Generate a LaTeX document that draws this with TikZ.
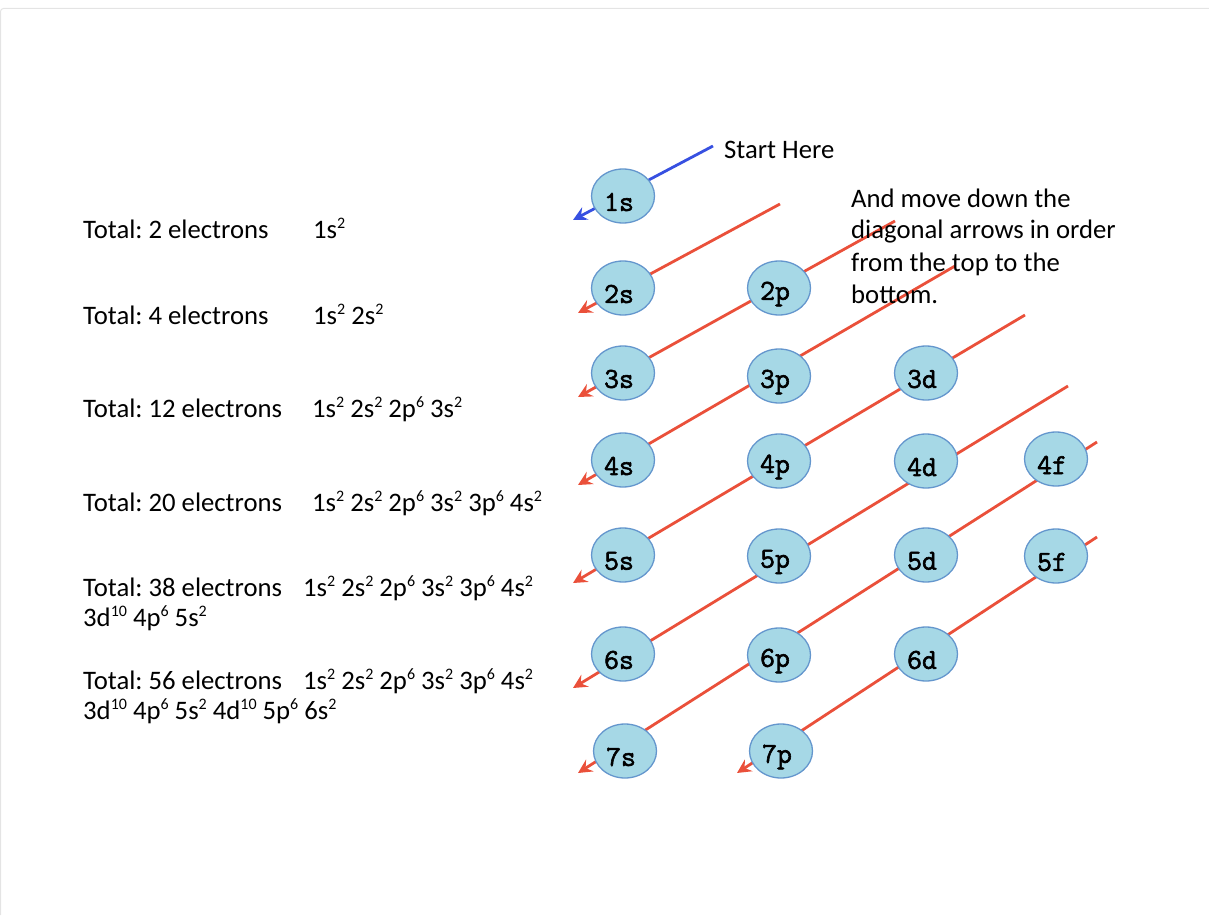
\documentclass[tikz,border=0pt]{standalone}
\usepackage{fontspec}
\setmainfont{Carlito}
\newfontfamily\orbfont[FakeBold=2]{Latin Modern Mono}
\frenchspacing
\usetikzlibrary{shapes.geometric,arrows.meta}
\definecolor{orbfill}{RGB}{166,216,230}
\definecolor{orbdraw}{RGB}{100,150,205}
\definecolor{arrred}{RGB}{234,80,58}
\definecolor{arrblue}{RGB}{55,80,225}
\definecolor{framegray}{RGB}{228,228,228}
\newcommand\su[1]{\raisebox{0.36em}{\fontsize{16}{16}\selectfont #1}}
\begin{document}
\begin{tikzpicture}[x=1pt,y=-1pt,
  orb/.style={ellipse, draw=orbdraw, fill=orbfill, line width=1.3pt,
    minimum width=63pt, minimum height=54pt, inner sep=0pt,
    label={[font=\orbfont\fontsize{29}{29}\selectfont, xshift=-4pt, yshift=-6pt]center:#1}},
  redline/.style={draw=arrred, line width=2.8pt, -{Stealth[length=14pt,width=14pt,inset=5pt]}},
  blueline/.style={draw=arrblue, line width=2.8pt, -{Stealth[length=14pt,width=14pt,inset=5pt]}},
  txt/.style={anchor=base west, inner sep=0pt, font=\fontsize{26.7}{30}\selectfont}]
\useasboundingbox (0,0) rectangle (1209,915);
\draw[framegray, line width=1pt, rounded corners=3pt] (0.5,915) -- (0.5,8.5) -- (1209,8.5);

% arrow end points
\coordinate (b1) at (713,146); \coordinate (e1) at (573,220);
\coordinate (b2) at (780,204); \coordinate (e2) at (578,313);
\coordinate (b3) at (895,221); \coordinate (e3) at (578,397);
\coordinate (b4) at (955,266); \coordinate (e4) at (578,485);
\coordinate (b5) at (1025,315); \coordinate (e5) at (573,583);
\coordinate (b6) at (1068,386); \coordinate (e6) at (573,688);
\coordinate (b7) at (1097,442); \coordinate (e7) at (578,773);
\coordinate (b8) at (1097,537); \coordinate (e8) at (737,773);

\draw[blueline] (b1) -- (e1);
\draw[redline] (b2) -- (e2);
\draw[redline] (b3) -- (e3);
\draw[redline] (b4) -- (e4);
\draw[redline] (b5) -- (e5);
\draw[redline] (b6) -- (e6);
\draw[redline] (b7) -- (e7);
\draw[redline] (b8) -- (e8);

% orbitals
\node[orb=1s] (o1s) at (623,196) {};
\node[orb=2s] (o2s) at (623,288) {};
\node[orb=2p] (o2p) at (779,288) {};
\node[orb=3s] (o3s) at (623,373) {};
\node[orb=3p] (o3p) at (779,376) {};
\node[orb=3d] (o3d) at (926,373) {};
\node[orb=4s] (o4s) at (623,460) {};
\node[orb=4p] (o4p) at (779,461) {};
\node[orb=4d] (o4d) at (926,461) {};
\node[orb=4f] (o4f) at (1056,459) {};
\node[orb=5s] (o5s) at (623,555) {};
\node[orb=5p] (o5p) at (779,556) {};
\node[orb=5d] (o5d) at (926,555) {};
\node[orb=5f] (o5f) at (1056,556) {};
\node[orb=6s] (o6s) at (623,654) {};
\node[orb=6p] (o6p) at (779,655) {};
\node[orb=6d] (o6d) at (926,654) {};
\node[orb=7s] (o7s) at (625,751) {};
\node[orb=7p] (o7p) at (781,751) {};

% annotations
\node[txt] (start) at (724,158) {Start Here};
\node[txt] (m1) at (851,207) {And move down the};
\node[txt] (m2) at (851,238) {diagonal arrows in order};
\node[txt] (m3) at (851,271) {from the top to the};
\node[txt] (m4) at (851,303) {bottom.};

\node[txt] (t1) at (83,238) {Total: 2 electrons};
\node[txt] (c1) at (313,238) {1s\su{2}};
\node[txt] (t2) at (83,324) {Total: 4 electrons};
\node[txt] (c2) at (313,324) {1s\su{2} 2s\su{2}};
\node[txt] (t3) at (83,417) {Total: 12 electrons};
\node[txt] (c3) at (312,417) {1s\su{2} 2s\su{2} 2p\su{6} 3s\su{2}};
\node[txt] (t4) at (83,511) {Total: 20 electrons};
\node[txt] (c4) at (312,511) {1s\su{2} 2s\su{2} 2p\su{6} 3s\su{2} 3p\su{6} 4s\su{2}};
\node[txt] (t5) at (83,596) {Total: 38 electrons};
\node[txt] (c5) at (303,596) {1s\su{2} 2s\su{2} 2p\su{6} 3s\su{2} 3p\su{6} 4s\su{2}};
\node[txt] (c5b) at (83,626) {3d\su{10} 4p\su{6} 5s\su{2}};
\node[txt] (t6) at (83,689) {Total: 56 electrons};
\node[txt] (c6) at (303,689) {1s\su{2} 2s\su{2} 2p\su{6} 3s\su{2} 3p\su{6} 4s\su{2}};
\node[txt] (c6b) at (83,719) {3d\su{10} 4p\su{6} 5s\su{2} 4d\su{10} 5p\su{6} 6s\su{2}};
\end{tikzpicture}
\end{document}
